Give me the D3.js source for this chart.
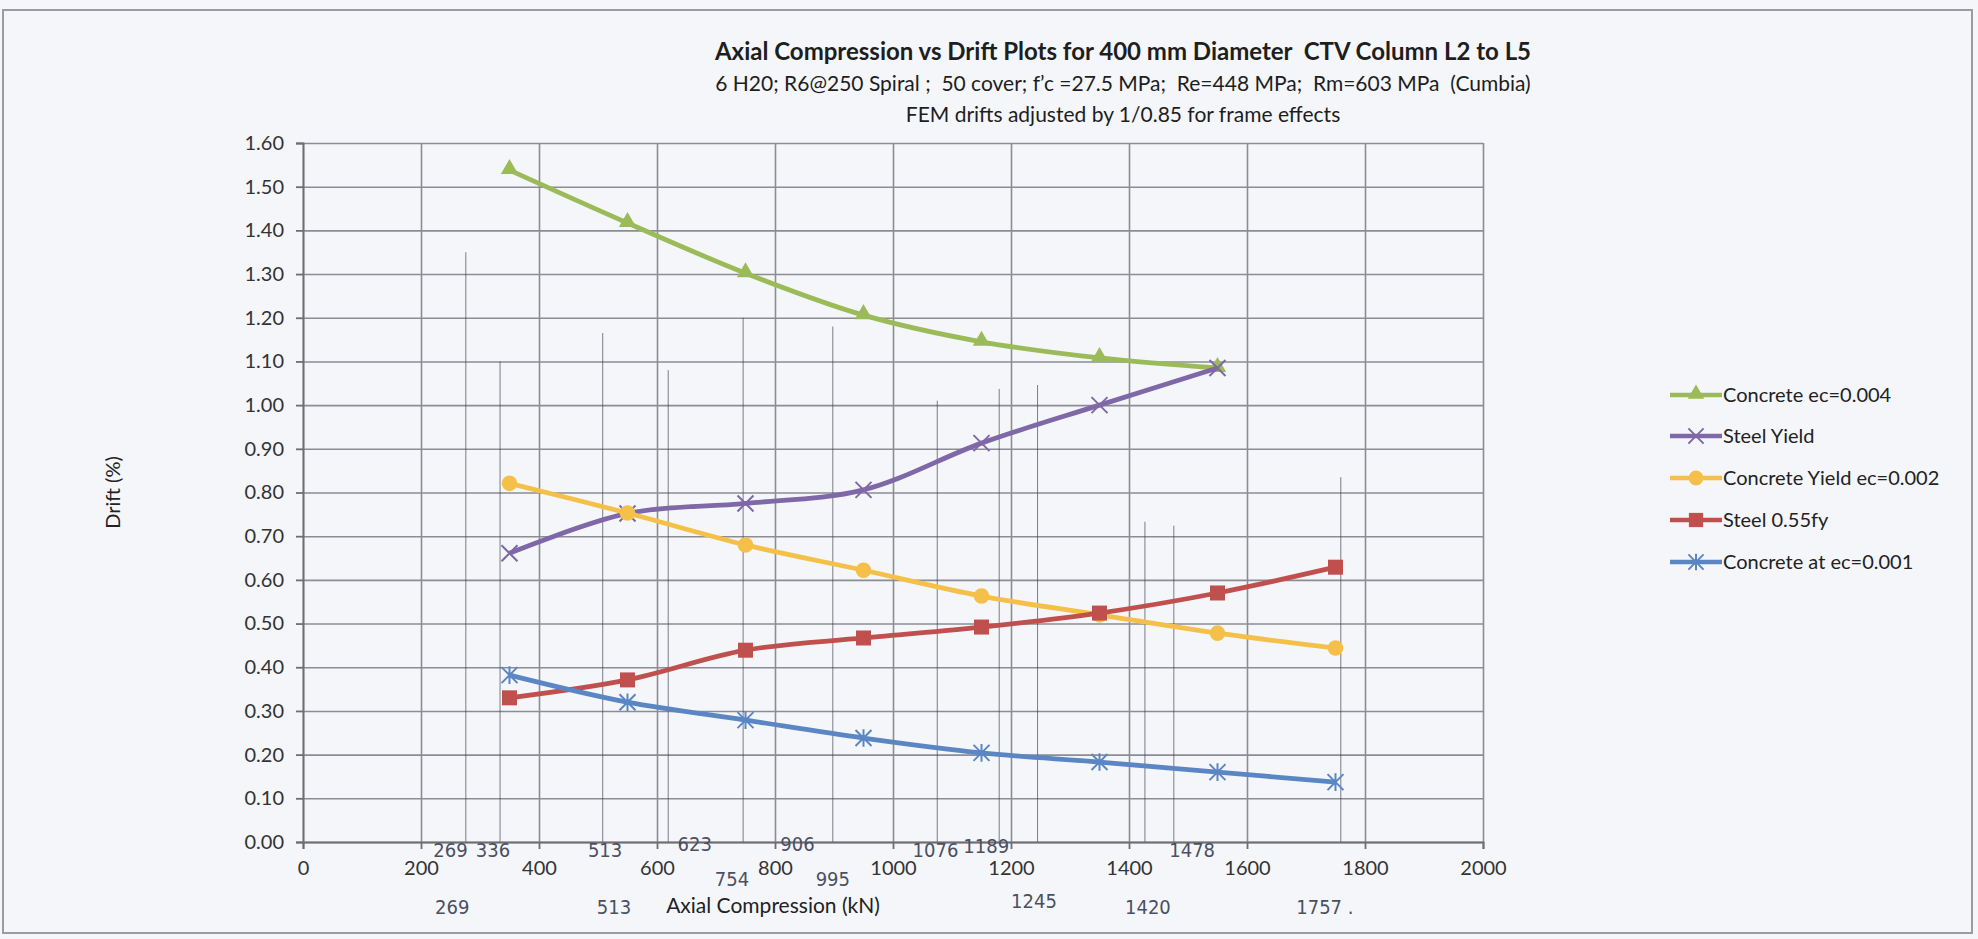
<!DOCTYPE html>
<html>
<head>
<meta charset="utf-8">
<script src="https://cdn.jsdelivr.net/npm/d3@7/dist/d3.min.js"></script>
<style>
  body { margin: 0; background: #f4f6fa; }
  svg { display: block; }
  .axis text { font-family: Lato, "Open Sans", sans-serif; font-size: 20px; fill: #333; }
  .axis path, .axis line { stroke: #6e6e72; }
  .grid line { stroke: #8c8c92; stroke-width: 1.6px; }
  .grid path { display: none; }
</style>
</head>
<body>
<div id="chart"></div>
<script>
// axial compression (kN)
const xs = [350, 550, 750, 950, 1150, 1350, 1550, 1750];

// drift (%) per series
const concrete004 = [1.538, 1.417, 1.302, 1.206, 1.145, 1.108, 1.085];
const steelYield  = [0.661, 0.752, 0.775, 0.806, 0.913, 1.000, 1.085];
const concrete002 = [0.821, 0.753, 0.680, 0.622, 0.563, 0.520, 0.478, 0.444];
const steel055    = [0.330, 0.371, 0.439, 0.467, 0.492, 0.524, 0.570, 0.629];
const concrete001 = [0.382, 0.320, 0.279, 0.238, 0.204, 0.183, 0.160, 0.137];

const seriesNames = ['Concrete ec=0.004', 'Steel Yield', 'Concrete Yield ec=0.002', 'Steel 0.55fy', 'Concrete at ec=0.001'];
const seriesColors = ['#9bbb59', '#7f68a8', '#f5c04a', '#c0504d', '#5b86c4'];
const seriesMarkers = ['triangle', 'x', 'circle', 'square', 'asterisk'];
const seriesValues = [concrete004, steelYield, concrete002, steel055, concrete001];

const xTicks = [0, 200, 400, 600, 800, 1000, 1200, 1400, 1600, 1800, 2000];
const yTicks = [0, 0.1, 0.2, 0.3, 0.4, 0.5, 0.6, 0.7, 0.8, 0.9, 1.0, 1.1, 1.2, 1.3, 1.4, 1.5, 1.6];

// pencil marks on the printout
const pencilX   = [276, 334, 508, 619, 746, 898, 1075, 1180, 1245, 1427, 1476, 1759];
const pencilTop = [1.35, 1.10, 1.165, 1.08, 1.20, 1.18, 1.01, 1.037, 1.046, 0.733, 0.724, 0.835];
const noteText = ['269', '336', '513', '623', '906', '1076', '1189', '1478', '754', '995', '269', '513', '1245', '1420', '1757 .'];
const noteX    = [250, 322, 512, 664, 838, 1072, 1158, 1507, 727, 898, 253, 527, 1239, 1432, 1732];
const noteRow  = [0, 0, 0, -0.2, -0.2, 0, -0.15, 0, 1, 1, 2, 2, 1.8, 2, 2];

const W = 1978, H = 939;
const margin = {left: 303, right: 1483, top: 143, bottom: 842};

const svg = d3.select('#chart').append('svg')
    .attr('width', W)
    .attr('height', H);

// chart frame
svg.append('rect')
    .attr('x', 3).attr('y', 10)
    .attr('width', 1969).attr('height', 923)
    .attr('fill', 'none')
    .attr('stroke', '#9a9ca2')
    .attr('stroke-width', 2);

const x = d3.scaleLinear().domain([0, 2000]).range([margin.left, margin.right]);
const y = d3.scaleLinear().domain([0, 1.6]).range([margin.bottom, margin.top]);

// grid
svg.append('g')
    .attr('class', 'grid')
    .attr('transform', 'translate(0,' + margin.bottom + ')')
    .call(d3.axisBottom(x).tickValues(xTicks).tickSize(-(margin.bottom - margin.top)).tickFormat(''));
svg.append('g')
    .attr('class', 'grid')
    .attr('transform', 'translate(' + margin.left + ',0)')
    .call(d3.axisLeft(y).tickValues(yTicks).tickSize(-(margin.right - margin.left)).tickFormat(''));

// pencil lines
svg.append('g').selectAll('line')
    .data(pencilX)
    .join('line')
    .attr('x1', d => x(d)).attr('x2', d => x(d))
    .attr('y1', y(0)).attr('y2', (d, i) => y(pencilTop[i]))
    .attr('stroke', '#3a3d48')
    .attr('stroke-width', 1)
    .attr('opacity', 0.65);

// axes
svg.append('g')
    .attr('class', 'axis')
    .attr('transform', 'translate(0,' + margin.bottom + ')')
    .call(d3.axisBottom(x).tickValues(xTicks).tickSize(7).tickPadding(12).tickFormat(d3.format('d')))
    .call(g => g.selectAll('path, line').attr('stroke-width', 1.8));
svg.append('g')
    .attr('class', 'axis')
    .attr('transform', 'translate(' + margin.left + ',0)')
    .call(d3.axisLeft(y).tickValues(yTicks).tickSize(7).tickPadding(12).tickFormat(d3.format('.2f')))
    .call(g => g.selectAll('path, line').attr('stroke-width', 1.8));

// axis titles
svg.append('text')
    .attr('x', 773).attr('y', 913)
    .attr('text-anchor', 'middle')
    .style('font-family', 'Lato, sans-serif').style('font-size', '21px').style('fill', '#222')
    .text('Axial Compression (kN)');
svg.append('text')
    .attr('transform', 'translate(120,' + ((margin.top + margin.bottom) / 2) + ') rotate(-90)')
    .attr('text-anchor', 'middle')
    .style('font-family', 'Lato, sans-serif').style('font-size', '20px').style('fill', '#222')
    .text('Drift (%)');

// title
const titleLines = [
  'Axial Compression vs Drift Plots for 400 mm Diameter  CTV Column L2 to L5',
  '6 H20; R6@250 Spiral ;  50 cover; f\u2019c =27.5 MPa;  Re=448 MPa;  Rm=603 MPa  (Cumbia)',
  'FEM drifts adjusted by 1/0.85 for frame effects'
];
svg.append('g').selectAll('text')
    .data(titleLines)
    .join('text')
    .attr('x', 1123)
    .attr('y', (d, i) => 60 + i * 31)
    .attr('text-anchor', 'middle')
    .style('font-family', 'Lato, sans-serif')
    .style('font-size', (d, i) => i === 0 ? '24px' : '21px')
    .style('font-weight', (d, i) => i === 0 ? 'bold' : 'normal')
    .style('fill', '#1e1e1e')
    .style('white-space', 'pre')
    .text(d => d);

// markers
function drawMarker(g, type, color, cx, cy, s) {
  if (type === 'triangle') {
    g.append('path').attr('d', d3.symbol(d3.symbolTriangle, 130 * s * s)())
      .attr('transform', 'translate(' + cx + ',' + (cy - 1) + ')').attr('fill', color);
  } else if (type === 'circle') {
    g.append('circle').attr('cx', cx).attr('cy', cy).attr('r', 7.8 * s).attr('fill', color);
  } else if (type === 'square') {
    g.append('rect').attr('x', cx - 7.5 * s).attr('y', cy - 7.5 * s)
      .attr('width', 15 * s).attr('height', 15 * s).attr('fill', color);
  } else if (type === 'x' || type === 'asterisk') {
    const r = 8 * s;
    let d = 'M' + (cx - r) + ',' + (cy - r) + 'L' + (cx + r) + ',' + (cy + r) +
            'M' + (cx - r) + ',' + (cy + r) + 'L' + (cx + r) + ',' + (cy - r);
    if (type === 'asterisk') d += 'M' + cx + ',' + (cy - r * 1.1) + 'L' + cx + ',' + (cy + r * 1.1);
    g.append('path').attr('d', d).attr('stroke', color).attr('stroke-width', 2).attr('fill', 'none');
  }
}

const line = d3.line()
    .x(d => x(d[0]))
    .y(d => y(d[1]))
    .curve(d3.curveCatmullRom.alpha(0.5));

seriesValues.forEach(function(vals, i) {
  const pts = vals.map((v, j) => [xs[j], v]);
  const g = svg.append('g');
  g.append('path')
      .datum(pts)
      .attr('d', line)
      .attr('fill', 'none')
      .attr('stroke', seriesColors[i])
      .attr('stroke-width', 4.8);
  pts.forEach(p => drawMarker(g, seriesMarkers[i], seriesColors[i], x(p[0]), y(p[1]), 1));
});

// legend
const legendY = [395, 436, 478, 520, 562];
seriesNames.forEach(function(name, i) {
  const g = svg.append('g');
  g.append('line')
      .attr('x1', 1670).attr('x2', 1722)
      .attr('y1', legendY[i]).attr('y2', legendY[i])
      .attr('stroke', seriesColors[i]).attr('stroke-width', 4.5);
  drawMarker(g, seriesMarkers[i], seriesColors[i], 1696, legendY[i], 0.95);
  g.append('text')
      .attr('x', 1723).attr('y', legendY[i] + 7)
      .style('font-family', 'Lato, sans-serif').style('font-size', '20px').style('fill', '#222')
      .text(name);
});

// handwritten notes under the axis
svg.append('g').selectAll('text')
    .data(noteText)
    .join('text')
    .attr('x', (d, i) => x(noteX[i]))
    .attr('y', (d, i) => 857 + noteRow[i] * 28.5)
    .attr('text-anchor', 'middle')
    .style('font-family', '"Liberation Sans Narrow", "DejaVu Sans Condensed", sans-serif')
    .style('font-size', '20px')
    .style('fill', '#4a5062')
    .text(d => d);
</script>
</body>
</html>
